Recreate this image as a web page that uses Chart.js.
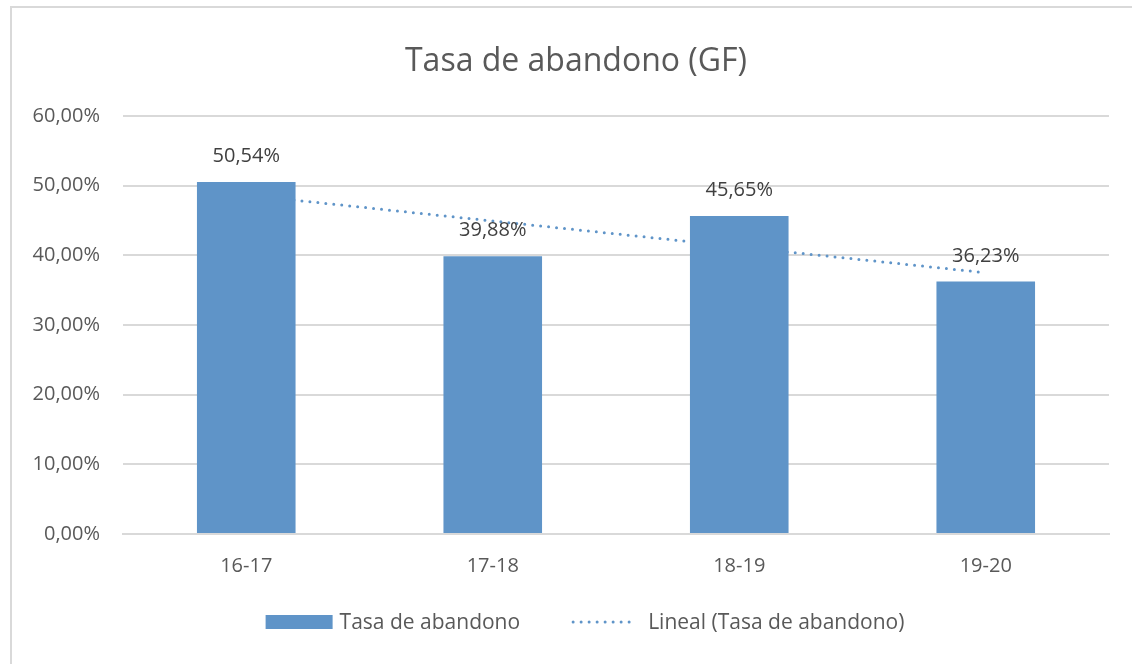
<!DOCTYPE html>
<html><head><meta charset="utf-8">
<script src="https://cdn.jsdelivr.net/npm/chart.js@4/dist/chart.umd.min.js"></script>
<style>html,body{margin:0;padding:0;background:#fff;overflow:hidden}canvas{display:block}</style>
</head>
<body><canvas id="c" width="1132" height="664"></canvas>
<script>
const categories = ['16-17', '17-18', '18-19', '19-20'];
const abandono = [50.54, 39.88, 45.65, 36.23];
const tendencia = [48.65, 44.93, 41.22, 37.50];
const yTicks = [0, 10, 20, 30, 40, 50, 60];
const seriesName = 'Tasa de abandono';
const trendName = 'Lineal (Tasa de abandono)';
const chartTitle = 'Tasa de abandono (GF)';

const BAR = '#5f94c8';
const FONT = "'Open Sans', sans-serif";
const TXT = 20;
const fmt = v => Number(v).toFixed(2).replace('.', ',') + '%';

const frame = {
  id: 'frame',
  beforeDraw(chart) {
    const ctx = chart.ctx;
    ctx.save();
    ctx.fillStyle = '#fff';
    ctx.fillRect(0, 0, chart.width, chart.height);
    ctx.strokeStyle = '#d9d9d9';
    ctx.lineWidth = 2;
    ctx.beginPath();
    ctx.moveTo(11, chart.height);
    ctx.lineTo(11, 7);
    ctx.lineTo(chart.width, 7);
    ctx.stroke();
    ctx.fillStyle = '#595959';
    ctx.font = `32px ${FONT}`;
    ctx.textAlign = 'center';
    ctx.textBaseline = 'middle';
    ctx.fillText(chartTitle, 576, 62);
    ctx.restore();
  }
};

const valueLabels = {
  id: 'valueLabels',
  afterDatasetsDraw(chart) {
    const ctx = chart.ctx;
    const meta = chart.getDatasetMeta(0);
    ctx.save();
    ctx.font = `${TXT}px ${FONT}`;
    ctx.fillStyle = '#404040';
    ctx.textAlign = 'center';
    ctx.textBaseline = 'alphabetic';
    meta.data.forEach((bar, i) => {
      ctx.fillText(fmt(abandono[i]), bar.x, bar.y - 20);
    });
    ctx.restore();
  }
};

const customLegend = {
  id: 'customLegend',
  afterDraw(chart) {
    const ctx = chart.ctx;
    ctx.save();
    ctx.font = `21px ${FONT}`;
    const w1 = ctx.measureText(seriesName).width;
    const w2 = ctx.measureText(trendName).width;
    const box = 67, gap1 = 7, between = 51, line = 66, gap2 = 11;
    const total = box + gap1 + w1 + between + line + gap2 + w2;
    const cy = 622;
    let x = 585 - total / 2;
    ctx.fillStyle = BAR;
    ctx.fillRect(x, cy - 7, box, 14);
    x += box + gap1;
    ctx.fillStyle = '#595959';
    ctx.textAlign = 'left';
    ctx.textBaseline = 'middle';
    ctx.fillText(seriesName, x, cy + 1);
    x += w1 + between;
    ctx.strokeStyle = BAR;
    ctx.lineWidth = 3;
    ctx.lineCap = 'round';
    ctx.setLineDash([0, 8]);
    ctx.beginPath();
    ctx.moveTo(x + 2, cy);
    ctx.lineTo(x + line, cy);
    ctx.stroke();
    ctx.setLineDash([]);
    x += line + gap2;
    ctx.fillText(trendName, x, cy + 1);
    ctx.restore();
  }
};

new Chart(document.getElementById('c'), {
  type: 'bar',
  data: {
    labels: categories,
    datasets: [
      {
        type: 'bar', label: seriesName, data: abandono,
        backgroundColor: BAR, barPercentage: 0.4, categoryPercentage: 1, order: 0
      },
      {
        type: 'line', label: trendName, data: tendencia,
        borderColor: BAR, borderWidth: 3, borderDash: [0, 8], borderCapStyle: 'round',
        pointRadius: 0, fill: false, tension: 0, order: 1
      }
    ]
  },
  options: {
    responsive: false,
    animation: false,
    devicePixelRatio: 1,
    layout: { padding: { left: 0, right: 23, top: 116, bottom: 0 } },
    plugins: {
      legend: { display: false },
      tooltip: { enabled: false },
      title: { display: false }
    },
    scales: {
      x: {
        grid: { display: false, drawTicks: false },
        border: { display: true, color: '#d9d9d9', width: 2 },
        ticks: { color: '#595959', font: { family: FONT, size: TXT }, padding: 20 },
        afterFit(s) { s.height = 130; }
      },
      y: {
        min: 0, max: 60,
        afterBuildTicks(s) { s.ticks = yTicks.map(v => ({ value: v })); },
        ticks: { color: '#595959', font: { family: FONT, size: TXT }, padding: 23, callback: v => fmt(v) },
        grid: { color: '#d9d9d9', lineWidth: 2, drawTicks: false },
        border: { display: false },
        afterFit(s) { s.width = 123; }
      }
    }
  },
  plugins: [frame, valueLabels, customLegend]
});
</script>
</body></html>
